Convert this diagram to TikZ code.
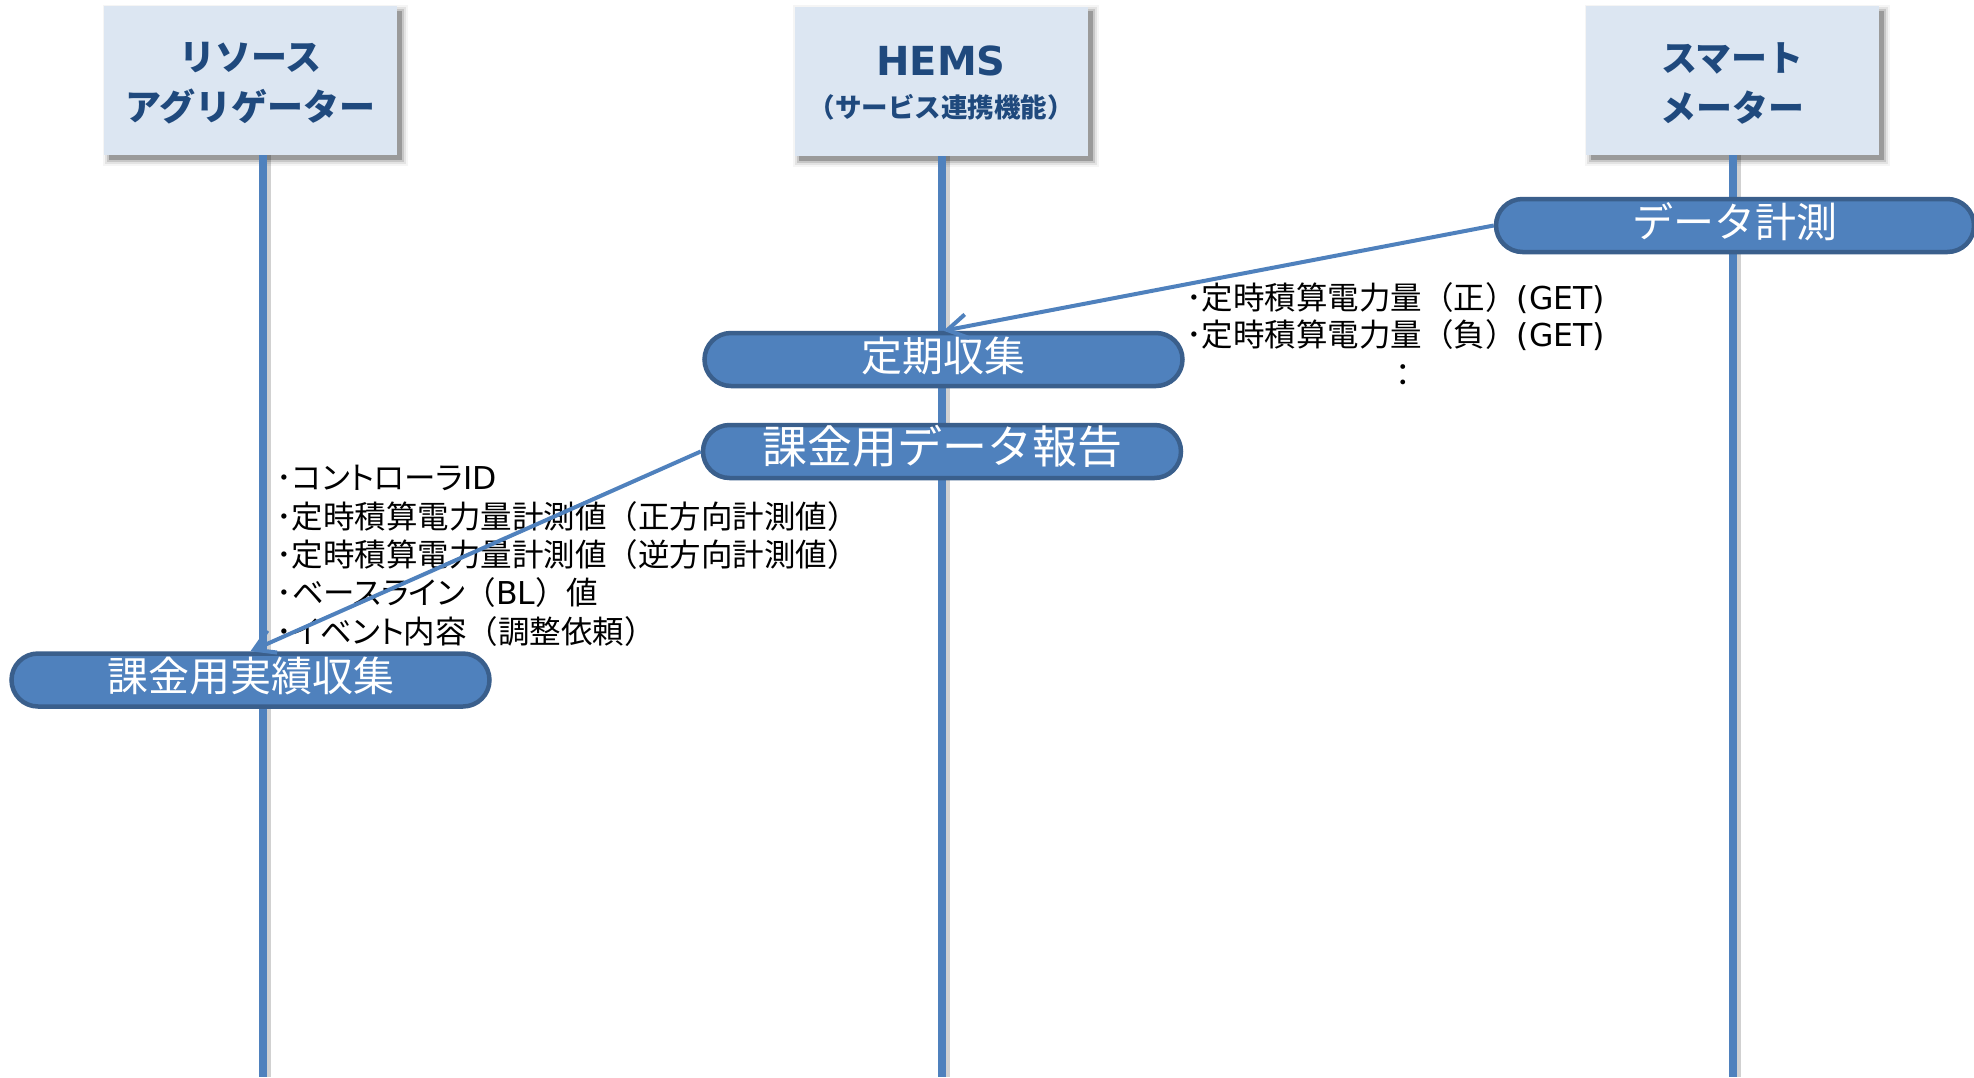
\documentclass[tikz,border=0pt]{standalone}
\usepackage{fontspec}
\setmainfont{Noto Sans CJK JP}
\newfontfamily\latinfont{DejaVu Sans}
\usetikzlibrary{arrows.meta,calc,backgrounds}

\definecolor{hdrfill}{HTML}{DCE6F2}
\definecolor{hdrtext}{HTML}{1F497D}
\definecolor{lineblue}{HTML}{4F81BD}
\definecolor{pillborder}{HTML}{3A5F8C}

% Latin words set in a wide sans; katakana set with proportional widths
\newcommand\lat[1]{{\latinfont #1}}
\newcommand\pk[1]{{\addfontfeature{RawFeature=+palt}#1}}

% soft shadow below and to the right of a header box
\newcommand\boxshadow[1]{%
  \foreach \s/\o in {0/0.22,2/0.12,4/0.07,6/0.04}{%
    \fill[black,opacity=\o] ($(#1.north west)+(5-\s,5-\s)$) rectangle ($(#1.south east)+(5+\s,5+\s)$);}}

\tikzset{
  hdrbox/.style={fill=hdrfill, minimum width=293pt, minimum height=149pt, inner sep=0pt,
    text=hdrtext, align=center, font=\bfseries\fontsize{36}{50}\selectfont},
  lifeline/.style={draw=lineblue, line width=7.5pt},
  lifeshade/.style={draw=black, line width=5pt, opacity=0.18},
  pill/.style={draw=pillborder, fill=lineblue, line width=4.5pt, minimum width=478pt,
    minimum height=53pt, rounded corners=26.5pt, inner sep=0pt, text=white,
    text height=34pt, text depth=11pt, font=\fontsize{41}{41}\selectfont},
  msg/.style={draw=lineblue, line width=4pt, -{Straight Barb[length=20pt,width=24pt]}},
  body/.style={inner sep=0pt, font=\fontsize{31.5}{31.5}\selectfont, text=black}
}

\begin{document}
\begin{tikzpicture}[x=1pt,y=-1pt]
\useasboundingbox (0,0) rectangle (1974,1077);

% participants
\node[hdrbox] (ra) at (250.5,80.5) {\rule{0pt}{34pt}リソース\\アグリゲーター};
\node[hdrbox] (hems) at (941,81) {\rule{0pt}{33pt}\fontsize{40}{40}\selectfont\lat{HEMS}\\[-8pt]{\fontsize{26.5}{30}\selectfont（サービス連携機能）}};
\node[hdrbox] (sm) at (1732.5,80.5) {\rule{0pt}{34pt}スマート\\メーター};

% lifeline end points
\coordinate (raTop) at (263,155);   \coordinate (raBot) at (263,1077);
\coordinate (hemsTop) at (942,156); \coordinate (hemsBot) at (942,1077);
\coordinate (smTop) at (1733,155);  \coordinate (smBot) at (1733,1077);

\begin{scope}[on background layer]
  \fill[white] (0,0) rectangle (1974,1077);
  \boxshadow{ra}\boxshadow{hems}\boxshadow{sm}
  \foreach \p in {ra,hems,sm}{
    \draw[lifeshade] ($(\p Top)+(5,0)$) -- ($(\p Bot)+(5,0)$);
    \draw[lifeline] (\p Top) -- (\p Bot);
  }
\end{scope}

% activities
\node[pill] (keisoku) at (1735,225.5) {データ計測};
\node[pill] (teiki) at (943.5,359.5) {定期収集};
\node[pill, font=\fontsize{45}{45}\selectfont] (houkoku) at (942,451.5) {課金用データ報告};
\node[pill] (jisseki) at (250.5,680) {課金用実績収集};

% data items
\node[body, anchor=base west] (g1) at (1186,309) {･定時積算電力量（正）\lat{(GET)}};
\node[body, anchor=base west] (g2) at (1186,346) {･定時積算電力量（負）\lat{(GET)}};
\node[body] (g3) at (1403,376) {：};

\node[body, anchor=base west] (d1) at (276,489) {･\pk{コントローラ}\lat{ID}};
\node[body, anchor=base west] (d2) at (276,528) {･定時積算電力量計測値（正方向計測値）};
\node[body, anchor=base west] (d3) at (276,566) {･定時積算電力量計測値（逆方向計測値）};
\node[body, anchor=base west] (d4) at (276,604) {･\pk{ベースライン}（\lat{BL}）値};
\node[body, anchor=base west] (d5) at (276,643) {･\pk{イベント}内容（調整依頼）};

% messages
\draw[msg] (keisoku.west) -- (teiki.north);
\draw[msg] (houkoku.west) -- (jisseki.north);
\end{tikzpicture}
\end{document}
